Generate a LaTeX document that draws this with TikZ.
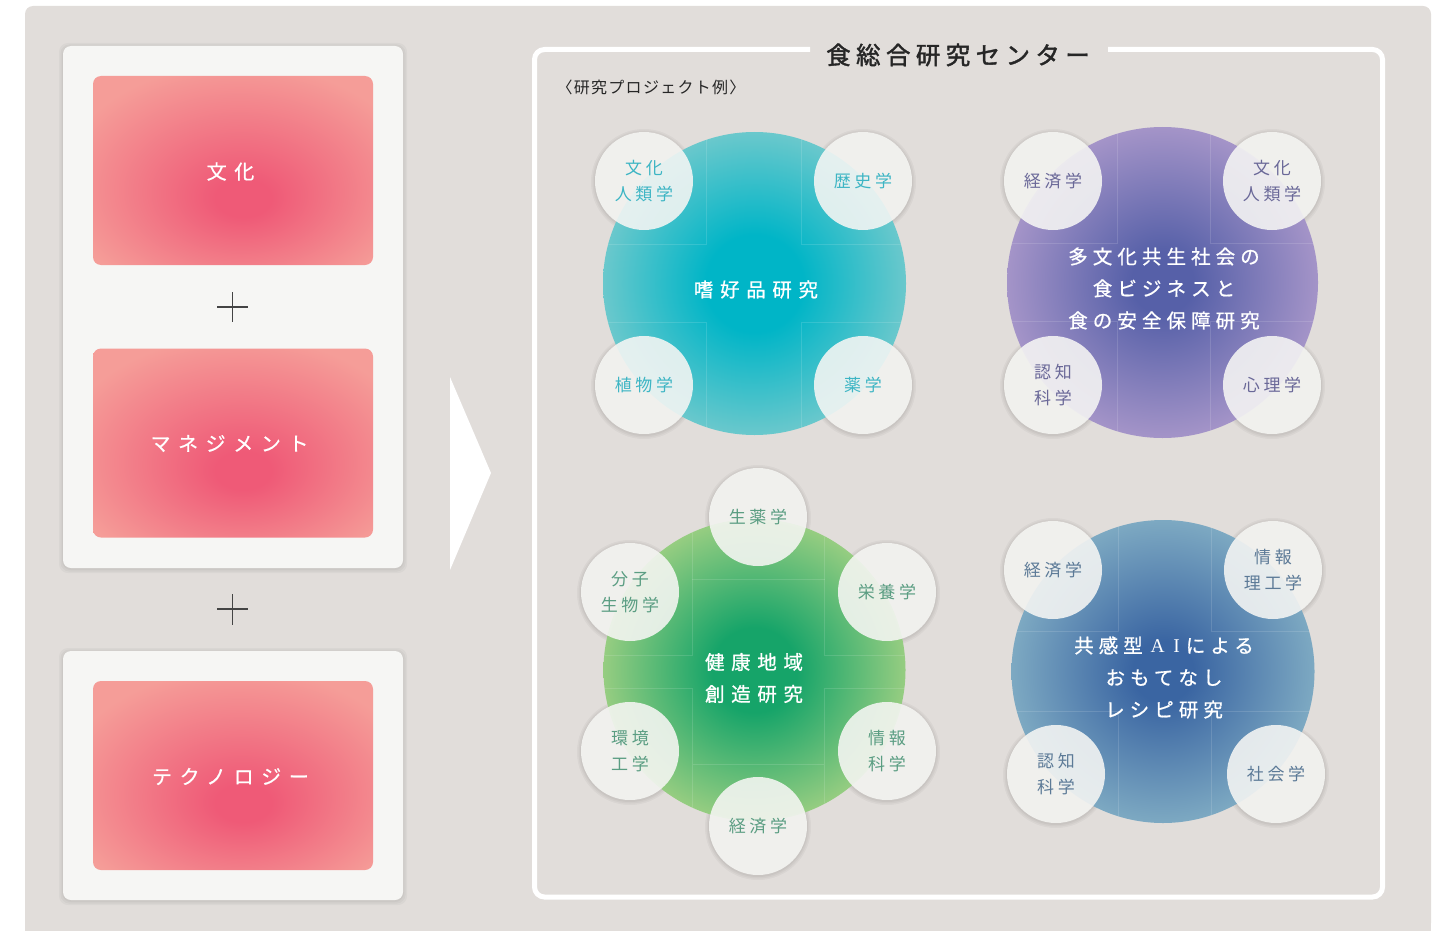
\documentclass[tikz,border=0pt]{standalone}
\usepackage{fontspec}
\newfontfamily\jp{Noto Sans CJK JP}
\newfontfamily\lat{Liberation Serif}
\definecolor{bg}{HTML}{E1DDDA}
\definecolor{panel}{HTML}{F6F6F4}
\definecolor{pinkin}{HTML}{EF5A77}
\definecolor{pinkout}{HTML}{F59D98}
\definecolor{tealin}{HTML}{00B5C7}
\definecolor{tealout}{HTML}{6AC8CC}
\definecolor{purin}{HTML}{5660A8}
\definecolor{purout}{HTML}{A494C8}
\definecolor{grnin}{HTML}{16A469}
\definecolor{grnout}{HTML}{96CD81}
\definecolor{bluin}{HTML}{3A65A2}
\definecolor{bluout}{HTML}{7DA9C2}
\definecolor{tealtx}{HTML}{3DB5C4}
\definecolor{purtx}{HTML}{6A6898}
\definecolor{grntx}{HTML}{5A9D82}
\definecolor{blutx}{HTML}{5C7A97}
\definecolor{titletx}{HTML}{262626}
\definecolor{plusc}{HTML}{444444}
\pgfdeclareradialshading{pinkshade}{\pgfpoint{2bp}{-8bp}}{color(0bp)=(pinkin); color(5bp)=(pinkin); color(32bp)=(pinkout); color(60bp)=(pinkout)}
\pgfdeclareradialshading{tealshade}{\pgfpointorigin}{color(0bp)=(tealin); color(8bp)=(tealin); color(25bp)=(tealout); color(50bp)=(tealout)}
\pgfdeclareradialshading{purshade}{\pgfpointorigin}{color(0bp)=(purin); color(5bp)=(purin); color(25bp)=(purout); color(50bp)=(purout)}
\pgfdeclareradialshading{grnshade}{\pgfpointorigin}{color(0bp)=(grnin); color(7bp)=(grnin); color(25bp)=(grnout); color(50bp)=(grnout)}
\pgfdeclareradialshading{blushade}{\pgfpointorigin}{color(0bp)=(bluin); color(5bp)=(bluin); color(25bp)=(bluout); color(50bp)=(bluout)}
\tikzset{
  panelbox/.style={rectangle, rounded corners=8pt, fill=panel, inner sep=0pt},
  pinkbox/.style={rectangle, rounded corners=8pt, shading=pinkshade, inner sep=0pt,
    minimum width=280pt, minimum height=189pt},
  pinktext/.style={text=white, inner sep=0pt,
    font=\jp\fontsize{20}{26}\selectfont\addfontfeature{LetterSpace=38,FakeBold=0.6}},
  ball/.style={circle, inner sep=0pt, minimum size=#1},
  balltext/.style={align=center, text=white, inner sep=0pt,
    font=\jp\fontsize{19.5}{32}\selectfont\addfontfeature{LetterSpace=#1,FakeBold=0.8}},
  balltext/.default=34,
  subj/.style={circle, minimum size=98pt, inner sep=0pt, fill=panel, fill opacity=.88,
    text opacity=1, align=center,
    font=\jp\fontsize{17}{26}\selectfont\addfontfeature{LetterSpace=22}},
  gridl/.style={white, opacity=.13, line width=.8pt},
  halo/.style={black, opacity=.035},
  plusline/.style={plusc, line width=1.3pt},
}
\newcommand\gridcross[6]{%
  \begin{scope}
    \clip (#1) circle[radius=#6pt];
    \begin{scope}[shift={(#1)}]
      \draw[gridl] (-#2,-200) -- (-#2,-#4) -- (-200,-#4);
      \draw[gridl] (#3,-200) -- (#3,-#4) -- (200,-#4);
      \draw[gridl] (-200,#5) -- (-#2,#5) -- (-#2,200);
      \draw[gridl] (200,#5) -- (#3,#5) -- (#3,200);
    \end{scope}
  \end{scope}}
\begin{document}
\begin{tikzpicture}[x=1pt,y=-1pt]
\useasboundingbox (0,0) rectangle (1442,931);
% background panel
\fill[bg, rounded corners=8pt] (25,6) rectangle (1431,931);
\fill[bg] (25,900) rectangle (1431,931);
% left panels (with faint shadow)
\foreach \d/\o in {4/.03,2.5/.03,1/.03}{
  \fill[black, opacity=\o, rounded corners=9pt] (63-\d,46-\d+1) rectangle (403+\d,568+\d+1);
  \fill[black, opacity=\o, rounded corners=9pt] (63-\d,651-\d+1) rectangle (403+\d,900+\d+1);
}
\node[panelbox, minimum width=340pt, minimum height=522pt] (pan1) at (233,307) {};
\node[panelbox, minimum width=340pt, minimum height=249pt] (pan2) at (233,775.5) {};
\node[pinkbox] (bunka) at (233,170.5) {};
\node[pinkbox] (mgmt) at (233,443) {};
\node[pinkbox] (tech) at (233,775.5) {};
\node[pinktext] (bunkat) at (230.5,171.5) {文化};
\node[pinktext] (mgmtt) at (229.5,443.5) {マネジメント};
\node[pinktext] (techt) at (230.5,776.5) {テクノロジー};
% plus signs
\draw[plusline] (217,307) -- (248,307) (232.5,292) -- (232.5,322);
\draw[plusline] (217,609) -- (248,609) (232.5,594) -- (232.5,625);
% arrow
\fill[white] (450,377) -- (491,473) -- (450,570) -- cycle;
% frame and title
\draw[white, line width=5pt, rounded corners=10pt] (810,49.5) -- (534.5,49.5) -- (534.5,897) -- (1382.5,897) -- (1382.5,49.5) -- (1108,49.5);
\node[text=titletx, font=\jp\fontsize{24.5}{30}\selectfont\addfontfeature{LetterSpace=22,FakeBold=1.6}] (title) at (958,55) {食総合研究センター};
\node[text=titletx, font=\jp\fontsize{16}{20}\selectfont\addfontfeature{LetterSpace=8}] (subtitle) at (651,87) {〈研究プロジェクト例〉};
% positions of subject circles
\coordinate (a1) at (644,181); \coordinate (a2) at (863,181);
\coordinate (a3) at (644,385); \coordinate (a4) at (863,385);
\coordinate (b1) at (1053,181); \coordinate (b2) at (1272,181);
\coordinate (b3) at (1053,385); \coordinate (b4) at (1272,385);
\coordinate (g1) at (758,517); \coordinate (g2) at (887,592);
\coordinate (g3) at (887,751); \coordinate (g4) at (758,826);
\coordinate (g5) at (630,751); \coordinate (g6) at (630,592);
\coordinate (d1) at (1053,570); \coordinate (d2) at (1273,570);
\coordinate (d3) at (1056,774); \coordinate (d4) at (1276,774);
% halos
\foreach \p in {a1,a2,a3,a4,b1,b2,b3,b4,g1,g2,g3,g4,g5,g6,d1,d2,d3,d4}{
  \fill[halo] ([yshift=-1pt]\p) circle[radius=53pt];
  \fill[halo] ([yshift=-1pt]\p) circle[radius=51.5pt];
  \fill[halo] ([yshift=-1pt]\p) circle[radius=50pt];
}
% big circles
\coordinate (cc1) at (754.5,283.5);
\coordinate (cc2) at (1162.5,282.5);
\coordinate (cc3) at (754.5,670);
\coordinate (cc4) at (1163,671.5);
\node[ball=303pt, shading=tealshade] (c1) at (cc1) {};
\node[ball=311pt, shading=purshade] (c2) at (cc2) {};
\node[ball=302pt, shading=grnshade] (c3) at (cc3) {};
\node[ball=303pt, shading=blushade] (c4) at (cc4) {};
% faint grid lines
\gridcross{cc1}{48}{47}{39}{39}{151.5}
\gridcross{cc2}{45}{48}{39}{39}{155.5}
\gridcross{cc4}{45}{48}{40}{40}{151.5}
\begin{scope}
  \clip (cc3) circle[radius=151pt];
  \begin{scope}[shift={(758,671.5)}]
    \draw[gridl] (-200,-16.5) -- (-66,-16.5) -- (-66,-92) -- (66,-92) -- (66,-16.5) -- (200,-16.5);
    \draw[gridl] (-200,16.5) -- (-66,16.5) -- (-66,93) -- (66,93) -- (66,16.5) -- (200,16.5);
    \draw[gridl] (-66,-92) -- (-66,-200) (66,-92) -- (66,-200);
    \draw[gridl] (-66,93) -- (-66,200) (66,93) -- (66,200);
  \end{scope}
\end{scope}
% labels in big circles
\node[balltext] (t1) at (756,289.5) {嗜好品研究};
\node[balltext=26] (t2) at (1164,288.5) {多文化共生社会の\\食ビジネスと\\食の安全保障研究};
\node[balltext] (t3) at (754,678) {健康地域\\創造研究};
\node[balltext=26] (t4) at (1164,677.5) {共感型\hspace{0.4em}{\lat A}\hspace{0.45em}{\lat I}\hspace{0.3em}による\\おもてなし\\レシピ研究};
% subject circles
\node[subj, text=tealtx] (s1) at (a1) {文化\\人類学};
\node[subj, text=tealtx] (s2) at (a2) {歴史学};
\node[subj, text=tealtx] (s3) at (a3) {植物学};
\node[subj, text=tealtx] (s4) at (a4) {薬学};
\node[subj, text=purtx] (s5) at (b1) {経済学};
\node[subj, text=purtx] (s6) at (b2) {文化\\人類学};
\node[subj, text=purtx] (s7) at (b3) {認知\\科学};
\node[subj, text=purtx] (s8) at (b4) {心理学};
\node[subj, text=grntx] (s9) at (g1) {生薬学};
\node[subj, text=grntx] (s10) at (g2) {栄養学};
\node[subj, text=grntx] (s11) at (g3) {情報\\科学};
\node[subj, text=grntx] (s12) at (g4) {経済学};
\node[subj, text=grntx] (s13) at (g5) {環境\\工学};
\node[subj, text=grntx] (s14) at (g6) {分子\\生物学};
\node[subj, text=blutx] (s15) at (d1) {経済学};
\node[subj, text=blutx] (s16) at (d2) {情報\\理工学};
\node[subj, text=blutx] (s17) at (d3) {認知\\科学};
\node[subj, text=blutx] (s18) at (d4) {社会学};
\end{tikzpicture}
\end{document}
